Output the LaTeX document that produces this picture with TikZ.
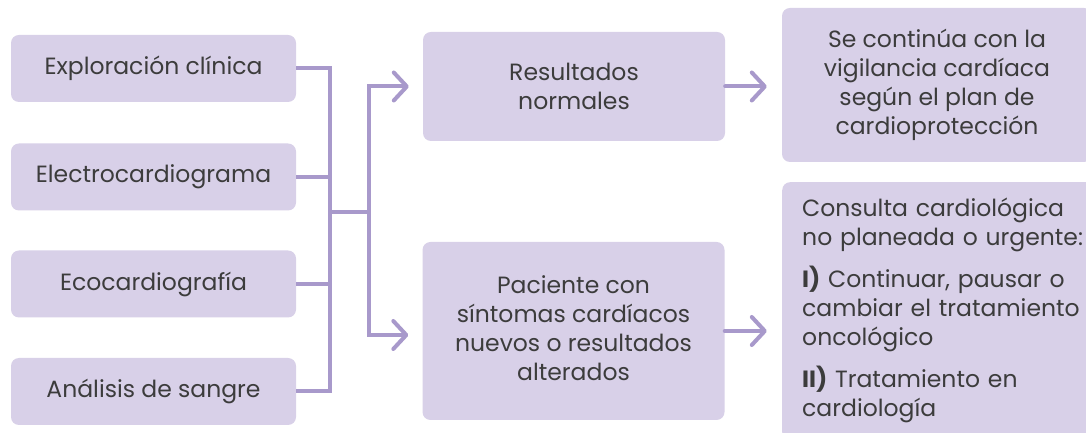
\documentclass[tikz,border=0pt]{standalone}
\usepackage{fontspec}
\setmainfont{Poppins}
\usetikzlibrary{arrows.meta,calc}
\definecolor{boxfill}{HTML}{D8D0E8}
\definecolor{linecol}{HTML}{A899CB}
\definecolor{txt}{HTML}{3C3C3C}
\begin{document}
\begin{tikzpicture}[x=1pt,y=1pt,
  box/.style={fill=boxfill,rounded corners=8pt,inner sep=0pt,text=txt,align=center,
    font=\fontsize{23.5}{29}\selectfont},
  conn/.style={draw=linecol,line width=4pt},
  arr/.style={conn,-{Straight Barb[length=13pt,width=28pt,line width=4pt,round]},line cap=round}
]
\useasboundingbox (0,0) rectangle (1086,433);
\fill[white] (0,0) rectangle (1086,433);
% left column
\node[box,minimum width=285pt,minimum height=67pt] (b1) at (153.5,364.5) {Exploración clínica};
\node[box,minimum width=285pt,minimum height=67pt] (b2) at (153.5,256) {Electrocardiograma};
\node[box,minimum width=285pt,minimum height=67pt] (b3) at (153.5,149) {Ecocardiografía};
\node[box,minimum width=285pt,minimum height=67pt] (b4) at (153.5,41.5) {Análisis de sangre};
% middle column
\node[box,minimum width=302pt,minimum height=109pt] (m1) at (574,346.5) {Resultados\\normales};
\node[box,minimum width=302pt,minimum height=178pt] (m2) at (573.5,102) {\raisebox{5pt}{\begin{tabular}{@{}c@{}}Paciente con\\síntomas cardíacos\\nuevos o resultados\\alterados\end{tabular}}};
% right column
\node[box,minimum width=310pt,minimum height=154pt] (r1) at (937,348) {Se continúa con la\\vigilancia cardíaca\\según el plan de\\cardioprotección};
\node[box,minimum height=258pt,align=left,anchor=north west,text width=320pt] (r2) at (782,251) {%
\begin{minipage}[t][258pt][t]{320pt}\leftskip=20pt\rightskip=0pt plus 1fil\parindent=0pt\vspace{16pt}%
Consulta cardiológica\\no planeada o urgente:\\[13pt]
{\bfseries I)} Continuar, pausar o\\cambiar el tratamiento\\oncológico\\[13pt]
{\bfseries II)} Tratamiento en\\cardiología
\end{minipage}};
% connectors
\coordinate (j1) at (330,221);
\coordinate (j2) at (369,221);
\draw[conn] (b1.east) -| (j1);
\draw[conn] (b4.east) -| (j1);
\draw[conn] (b2.east) -- (b2.east -| j1);
\draw[conn] (b3.east) -- (b3.east -| j1);
\draw[conn] (j1) -- (j2);
\draw[arr,shorten >=14pt] (j2) |- (m1.west);
\draw[arr,shorten >=14pt] (j2) |- ([yshift=-4pt]m2.west);
\draw[arr,shorten >=15pt] (m1.east) -- (m1.east -| r1.west);
\draw[arr,shorten >=15pt] (m2.east) -- (m2.east -| r1.west);
\end{tikzpicture}
\end{document}
